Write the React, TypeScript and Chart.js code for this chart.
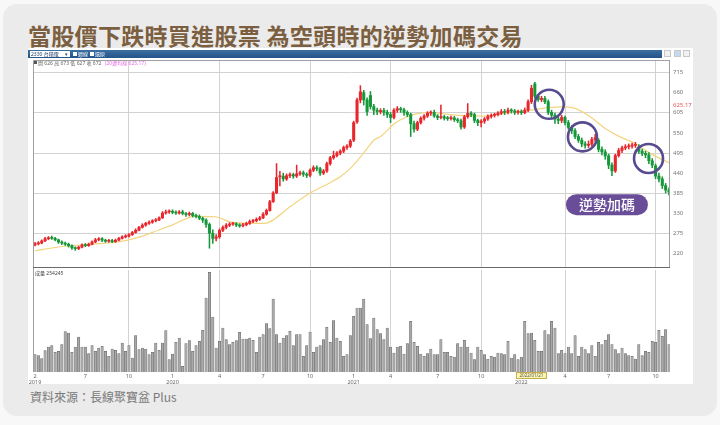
import { useEffect, useRef } from "react";
import { Chart, registerables } from "chart.js";

Chart.register(...registerables);

// weekly candles, Mar 2019 .. Oct 2022 (index = week)
const weekOpen = [
  244, 247, 249, 255, 261, 264, 262, 258, 252, 249,
  246, 242, 236, 234, 238, 244, 242, 246, 252, 258,
  261, 257, 254, 256, 253, 257, 262, 266, 268, 272,
  278, 284, 292, 298, 303, 306, 310, 312, 318, 331,
  334, 336, 333, 331, 334, 330, 327, 330, 324, 322,
  317, 312, 300, 276, 262, 266, 284, 292, 298, 301,
  302, 298, 296, 299, 303, 308, 310, 314, 318, 328,
  338, 362, 386, 430, 432, 424, 433, 436, 432, 438,
  441, 437, 434, 448, 455, 452, 440, 446, 466, 482,
  488, 495, 500, 510, 514, 530, 580, 640, 660, 640,
  652, 622, 612, 608, 611, 606, 600, 592, 612, 616,
  613, 606, 600, 575, 560, 578, 590, 596, 604, 606,
  596, 592, 594, 591, 589, 591, 586, 583, 566, 594,
  603, 600, 584, 578, 582, 588, 595, 598, 600, 604,
  608, 606, 612, 610, 606, 608, 605, 612, 635, 684,
  650, 641, 644, 635, 606, 598, 588, 584, 592, 578,
  565, 556, 540, 530, 520, 516, 519, 532, 530, 505,
  498, 487, 462, 446, 488, 502, 509, 512, 514, 516,
  512, 500, 494, 490, 474, 460, 432, 424, 406, 394
];
const weekHigh = [
  251, 253, 258, 265, 267, 268, 265, 260, 255, 252,
  249, 244, 239, 241, 247, 248, 249, 255, 262, 264,
  264, 260, 259, 259, 260, 265, 269, 272, 275, 281,
  288, 295, 302, 306, 310, 313, 316, 321, 335, 339,
  340, 340, 337, 338, 339, 333, 334, 333, 328, 326,
  320, 315, 304, 285, 272, 288, 296, 302, 305, 306,
  305, 302, 303, 306, 312, 314, 318, 322, 332, 342,
  366, 390, 466, 445, 440, 438, 441, 440, 462, 446,
  446, 441, 452, 460, 460, 456, 450, 470, 486, 500,
  499, 504, 514, 518, 532, 582, 645, 679, 666, 646,
  663, 628, 618, 616, 617, 612, 606, 616, 622, 620,
  618, 610, 604, 582, 582, 594, 600, 608, 610, 612,
  600, 626, 598, 595, 596, 595, 590, 588, 598, 630,
  608, 604, 588, 586, 592, 599, 602, 604, 608, 614,
  614, 618, 616, 614, 612, 613, 618, 640, 680, 688,
  655, 650, 650, 640, 612, 604, 594, 598, 596, 584,
  570, 562, 546, 536, 526, 528, 538, 546, 534, 512,
  504, 492, 468, 492, 508, 514, 518, 520, 522, 524,
  518, 506, 500, 496, 480, 465, 440, 430, 412, 400
];
const weekLow = [
  241, 244, 247, 253, 258, 259, 255, 248, 245, 243,
  238, 232, 229, 231, 236, 239, 240, 244, 250, 255,
  253, 251, 251, 250, 251, 255, 260, 263, 265, 270,
  276, 282, 290, 295, 300, 303, 307, 310, 316, 328,
  330, 329, 327, 328, 326, 322, 323, 320, 318, 313,
  305, 292, 235, 248, 255, 262, 280, 288, 294, 297,
  294, 292, 293, 296, 300, 305, 307, 311, 316, 325,
  336, 360, 384, 405, 418, 420, 428, 426, 428, 434,
  431, 428, 430, 444, 446, 434, 436, 442, 462, 478,
  484, 490, 496, 505, 510, 526, 576, 632, 626, 598,
  615, 600, 600, 602, 598, 592, 578, 588, 606, 606,
  598, 594, 540, 552, 556, 574, 585, 592, 598, 592,
  586, 588, 585, 584, 585, 581, 578, 560, 562, 590,
  594, 578, 570, 566, 576, 584, 590, 593, 596, 600,
  600, 602, 604, 600, 601, 600, 602, 608, 630, 645,
  636, 635, 630, 600, 590, 576, 575, 578, 572, 560,
  548, 534, 524, 512, 508, 510, 514, 526, 498, 490,
  478, 452, 433, 442, 484, 496, 504, 506, 508, 510,
  494, 488, 482, 466, 455, 425, 416, 398, 386, 380
];
const weekClose = [
  247, 249, 255, 261, 263, 262, 258, 252, 249, 246,
  242, 236, 234, 238, 244, 242, 246, 252, 258, 261,
  257, 254, 256, 253, 257, 262, 266, 268, 272, 278,
  284, 292, 298, 303, 306, 310, 312, 318, 331, 334,
  336, 333, 331, 334, 330, 327, 330, 324, 322, 317,
  312, 300, 276, 262, 266, 284, 292, 298, 301, 302,
  298, 296, 299, 303, 308, 310, 314, 318, 328, 338,
  362, 386, 428, 432, 424, 433, 436, 432, 438, 441,
  437, 434, 448, 455, 452, 440, 446, 466, 482, 488,
  495, 500, 510, 514, 528, 578, 640, 662, 640, 608,
  622, 612, 608, 611, 606, 600, 592, 612, 616, 613,
  606, 600, 575, 560, 578, 590, 596, 604, 606, 596,
  592, 594, 590, 589, 591, 586, 583, 566, 594, 603,
  600, 584, 578, 582, 588, 595, 598, 600, 604, 608,
  606, 612, 610, 606, 608, 605, 612, 635, 672, 650,
  641, 644, 635, 606, 598, 588, 584, 592, 578, 565,
  556, 540, 530, 520, 516, 519, 532, 537, 505, 498,
  487, 462, 446, 488, 502, 509, 512, 514, 516, 518,
  500, 494, 490, 474, 462, 432, 424, 406, 394, 388
];
const weekVolume = [
  52, 49, 40, 64, 75, 79, 59, 62, 82, 121,
  117, 59, 75, 105, 75, 75, 55, 79, 62, 72,
  77, 62, 47, 69, 65, 55, 87, 62, 79, 42,
  109, 67, 72, 69, 52, 59, 87, 65, 87, 124,
  37, 54, 89, 102, 17, 85, 94, 62, 79, 92,
  125, 222, 299, 165, 72, 92, 132, 97, 82, 89,
  94, 119, 99, 99, 102, 95, 59, 105, 112, 145,
  130, 219, 112, 87, 102, 109, 122, 79, 112, 112,
  47, 79, 120, 59, 75, 79, 97, 134, 89, 154,
  102, 92, 47, 52, 109, 167, 192, 192, 219, 142,
  100, 162, 127, 115, 97, 132, 75, 57, 75, 77,
  54, 85, 152, 89, 77, 54, 47, 55, 69, 52,
  52, 97, 59, 59, 47, 45, 85, 75, 95, 75,
  57, 37, 75, 65, 52, 39, 47, 45, 57, 55,
  52, 92, 42, 52, 37, 45, 152, 115, 117, 95,
  62, 62, 124, 112, 152, 132, 55, 65, 55, 75,
  55, 109, 47, 75, 67, 55, 79, 47, 89, 82,
  95, 112, 82, 67, 55, 72, 55, 49, 47, 39,
  82, 49, 62, 59, 92, 89, 125, 107, 127, 82
];

// moving average line, read at sample weeks
const maWeeks = [
  0, 7.5, 17, 24.7, 31.3, 36.7, 40.8, 47.7, 53.7, 58.1, 64.1, 68.6, 71.6, 76, 82, 86.5, 91, 94,
  98.4, 101, 103, 107.3, 110.3, 113.3, 117.8, 126, 134, 140, 147.6, 156.5, 161, 165.5, 170,
  174.4, 178.9, 183.4, 189.3
];
const maValues = [
  228, 239, 246, 252, 266, 284, 298, 322, 321, 307, 303, 303, 316, 348, 386, 407, 430, 453,
  500, 530, 540, 576, 592, 601, 605, 598, 596, 604, 612, 621, 617, 594, 562,
  539, 521, 494, 467
];

const priceTicks = [715, 660, 605, 550, 495, 440, 385, 330, 275, 220];
const monthTickWeeks = [0, 15, 28, 41, 55, 68, 82, 95, 106, 120, 133, 145, 158, 171, 185];
const monthTickLabels = ["2", "7", "10", "1", "4", "7", "10", "1", "4", "7", "10", "1", "4", "7", "10"];
const yearTickLabels = ["2019", "", "", "2020", "", "", "", "2021", "", "", "", "2022", "", "", ""];
const gridMonths = ["4", "10"];

const markerPrice = 625.17;
const hoverWeek = 148;
const hoverLabel = "2022/01/21";
const circleWeeks = [153.3, 163.2, 182.9];
const circlePrices = [628, 539, 480];
const calloutWeek = 170.5;
const calloutPrice = 354;
const calloutText = "逆勢加碼";

const X_MIN = -0.6;
const X_MAX = 189.3;
const UP = "#e8262c";
const DOWN = "#16983a";
const GRID = "#d2d2d2";
const SANS = "'Noto Sans', 'Noto Sans CJK TC', sans-serif";
const CJK = "'Noto Sans CJK TC', 'Noto Sans', sans-serif";

Chart.defaults.font.family = SANS;

const weeks = weekClose.map((_, i) => i);
const candleColors = weekClose.map((c, i) => (c >= weekOpen[i] ? UP : DOWN));

function gridColor(ctx: any) {
  return gridMonths.includes(monthTickLabels[ctx.index]) ? GRID : "rgba(0,0,0,0)";
}

function setMonthTicks(scale: any) {
  scale.ticks = monthTickWeeks.map((value) => ({ value }));
}

function dropPadding(scale: any) {
  scale.paddingTop = 0;
  scale.paddingBottom = 0;
  scale.paddingLeft = 0;
  scale.paddingRight = 0;
}

const priceOverlay = {
  id: "priceOverlay",
  afterDatasetsDraw(chart: any) {
    const { ctx, chartArea, scales } = chart;
    const { left, top, right, bottom } = chartArea;
    ctx.save();
    ctx.lineWidth = 1;
    ctx.strokeStyle = "#a0a0a0";
    ctx.strokeRect(left + 0.5, top + 0.5, right - left - 1, bottom - top - 1);
    ctx.strokeStyle = "#6a6a6a";
    ctx.beginPath();
    ctx.moveTo(left, bottom - 0.5);
    ctx.lineTo(right, bottom - 0.5);
    ctx.stroke();

    ctx.strokeStyle = "#594b8f";
    ctx.lineWidth = 2.6;
    circleWeeks.forEach((w, i) => {
      ctx.beginPath();
      ctx.arc(scales.x.getPixelForValue(w), scales.y.getPixelForValue(circlePrices[i]), 14.5, 0, Math.PI * 2);
      ctx.stroke();
    });

    const cx = scales.x.getPixelForValue(calloutWeek);
    const cy = scales.y.getPixelForValue(calloutPrice);
    ctx.fillStyle = "#6a4d98";
    ctx.beginPath();
    ctx.roundRect(cx - 41, cy - 10.5, 82, 21, 10.5);
    ctx.fill();
    ctx.fillStyle = "#ffffff";
    ctx.font = `500 14px ${CJK}`;
    ctx.textAlign = "center";
    ctx.textBaseline = "middle";
    ctx.fillText(calloutText, cx, cy + 0.5);

    ctx.fillStyle = "#e05858";
    ctx.font = `6px ${SANS}`;
    ctx.textAlign = "left";
    ctx.fillText(markerPrice.toFixed(2), right + 3, scales.y.getPixelForValue(markerPrice));
    ctx.restore();
  }
};

const volumeOverlay = {
  id: "volumeOverlay",
  afterDraw(chart: any) {
    const { ctx, chartArea, scales } = chart;
    ctx.save();
    ctx.strokeStyle = "#a0a0a0";
    ctx.lineWidth = 1;
    ctx.beginPath();
    ctx.moveTo(chartArea.left + 0.5, chartArea.top - 2);
    ctx.lineTo(chartArea.left + 0.5, chartArea.bottom);
    ctx.stroke();

    const hx = scales.x.getPixelForValue(hoverWeek);
    const hy = chartArea.bottom + 0.5;
    ctx.fillStyle = "#fbf6b4";
    ctx.strokeStyle = "#c6ad48";
    ctx.fillRect(hx - 15, hy, 30, 6);
    ctx.strokeRect(hx - 15, hy, 30, 6);
    ctx.fillStyle = "#555";
    ctx.font = `4.5px ${SANS}`;
    ctx.textAlign = "center";
    ctx.textBaseline = "middle";
    ctx.fillText(hoverLabel, hx, hy + 3);
    ctx.restore();
  }
};

function PriceChart() {
  const canvasRef = useRef<HTMLCanvasElement | null>(null);

  useEffect(() => {
    if (!canvasRef.current) {
      return undefined;
    }

    const chart = new Chart(canvasRef.current, {
      type: "bar",
      data: {
        datasets: [
          {
            type: "bar",
            data: weeks.map((i) => ({ x: i, y: [weekOpen[i], weekClose[i]] })),
            backgroundColor: candleColors,
            barThickness: 2.4,
            minBarLength: 1,
            grouped: false,
            order: 1
          },
          {
            type: "bar",
            data: weeks.map((i) => ({ x: i, y: [weekLow[i], weekHigh[i]] })),
            backgroundColor: candleColors,
            barThickness: 0.9,
            grouped: false,
            order: 2
          },
          {
            type: "line",
            data: maWeeks.map((w, i) => ({ x: w, y: maValues[i] })),
            borderColor: "#f3d47f",
            borderWidth: 1.2,
            pointRadius: 0,
            cubicInterpolationMode: "monotone",
            order: 3
          }
        ]
      } as any,
      options: {
        animation: false,
        responsive: true,
        maintainAspectRatio: false,
        events: [],
        layout: { padding: { left: 5, right: 0, top: 0, bottom: 0 } },
        plugins: { legend: { display: false }, tooltip: { enabled: false } },
        scales: {
          x: {
            type: "linear",
            min: X_MIN,
            max: X_MAX,
            offset: false,
            afterBuildTicks: setMonthTicks,
            afterFit: (scale: any) => {
              scale.height = 0;
              dropPadding(scale);
            },
            ticks: { display: false, autoSkip: false },
            grid: { color: gridColor, drawTicks: false, offset: false },
            border: { display: false }
          },
          y: {
            position: "right",
            min: 181,
            max: 749,
            afterBuildTicks: (scale: any) => {
              scale.ticks = priceTicks.map((value) => ({ value }));
            },
            afterFit: (scale: any) => {
              scale.width = 23;
              dropPadding(scale);
            },
            ticks: { color: "#777", font: { size: 6 }, padding: 3, autoSkip: false },
            grid: {
              color: (ctx: any) => ((715 - ctx.tick.value) % 110 === 0 ? GRID : "rgba(0,0,0,0)"),
              drawTicks: false
            },
            border: { display: false }
          }
        }
      } as any,
      plugins: [priceOverlay]
    });

    return () => chart.destroy();
  }, []);

  return (
    <div style={{ position: "absolute", left: 28, top: 60, width: 665, height: 208 }}>
      <canvas ref={canvasRef} />
    </div>
  );
}

function VolumeChart() {
  const canvasRef = useRef<HTMLCanvasElement | null>(null);

  useEffect(() => {
    if (!canvasRef.current) {
      return undefined;
    }

    const chart = new Chart(canvasRef.current, {
      type: "bar",
      data: {
        datasets: [
          {
            data: weeks.map((i) => ({ x: i, y: weekVolume[i] })),
            backgroundColor: "#a8a8a8",
            borderColor: "#626262",
            borderWidth: 0.5,
            barThickness: 2.4
          }
        ]
      } as any,
      options: {
        animation: false,
        responsive: true,
        maintainAspectRatio: false,
        events: [],
        layout: { padding: { left: 5, right: 23, top: 2, bottom: 0 } },
        plugins: { legend: { display: false }, tooltip: { enabled: false } },
        scales: {
          x: {
            type: "linear",
            min: X_MIN,
            max: X_MAX,
            offset: false,
            afterBuildTicks: setMonthTicks,
            afterFit: (scale: any) => {
              scale.height = 13;
              dropPadding(scale);
            },
            ticks: {
              autoSkip: false,
              maxRotation: 0,
              padding: 1,
              color: "#666",
              font: { size: 5.5 },
              callback: (_value: any, index: number) =>
                yearTickLabels[index] ? [monthTickLabels[index], yearTickLabels[index]] : monthTickLabels[index]
            },
            grid: { color: gridColor, drawTicks: false, offset: false },
            border: { display: false }
          },
          y: { display: false, min: 0, max: 306 }
        }
      } as any,
      plugins: [volumeOverlay]
    });

    return () => chart.destroy();
  }, []);

  return (
    <div style={{ position: "absolute", left: 28, top: 268, width: 665, height: 117 }}>
      <canvas ref={canvasRef} />
    </div>
  );
}

const tinyText = { position: "absolute" as const, fontSize: 5, lineHeight: "6px", whiteSpace: "nowrap" as const };

function Toolbar() {
  return (
    <>
      <div
        style={{
          position: "absolute",
          left: 28,
          top: 50,
          width: 634,
          height: 8,
          background: "linear-gradient(#3d6fa1, #24548a)"
        }}
      />
      <div
        style={{
          ...tinyText,
          left: 30,
          top: 51,
          width: 40,
          height: 6,
          background: "#fff",
          color: "#1d3f6e",
          paddingLeft: 1,
          boxSizing: "border-box"
        }}
      >
        2330 台積電 <span style={{ float: "right", paddingRight: 2 }}>▾</span>
      </div>
      <div style={{ position: "absolute", left: 73, top: 52, width: 4, height: 4, background: "#fff" }} />
      <div style={{ ...tinyText, left: 78, top: 51, color: "#fff" }}>週線</div>
      <div style={{ position: "absolute", left: 90, top: 52, width: 4, height: 4, background: "#fff" }} />
      <div style={{ ...tinyText, left: 95, top: 51, color: "#fff" }}>還原</div>
      {["#f1f1f1", "#c4d9f0", "#f1f1f1"].map((bg, i) => (
        <div
          key={i}
          style={{
            position: "absolute",
            left: 664 + i * 9.5,
            top: 50,
            width: 7,
            height: 7,
            background: bg,
            border: "1px solid #c8c8c8",
            boxSizing: "border-box"
          }}
        />
      ))}
      <div style={{ position: "absolute", left: 34, top: 61, width: 3, height: 3, background: "#555" }} />
      <div style={{ ...tinyText, left: 38, top: 60, color: "#666" }}>開 626 高 673 低 627 收 672</div>
      <div style={{ ...tinyText, left: 105, top: 60, color: "#e46ae4" }}>(20週均線 625.17)</div>
      <div style={{ ...tinyText, left: 35, top: 270, color: "#444" }}>成量 254245</div>
    </>
  );
}

export default function App() {
  return (
    <div
      style={{
        position: "fixed",
        left: 0,
        top: 0,
        width: 720,
        height: 425,
        overflow: "hidden",
        background: "#f8f8f8",
        fontFamily: SANS
      }}
    >
      <div
        style={{ position: "absolute", left: 3, top: 4, width: 714, height: 412, borderRadius: 14, background: "#ebebeb" }}
      />
      <div
        style={{
          position: "absolute",
          left: 28,
          top: 20,
          fontSize: 23,
          lineHeight: "30px",
          fontWeight: 700,
          letterSpacing: 0.3,
          color: "#7b5f40",
          whiteSpace: "nowrap",
          fontFamily: CJK
        }}
      >
        當股價下跌時買進股票 為空頭時的逆勢加碼交易
      </div>
      <div style={{ position: "absolute", left: 28, top: 48, width: 665, height: 336, background: "#fff" }} />
      <PriceChart />
      <VolumeChart />
      <Toolbar />
      <div
        style={{
          position: "absolute",
          left: 30,
          top: 389,
          fontSize: 12,
          lineHeight: "16px",
          color: "#7a7a7a",
          whiteSpace: "nowrap",
          fontFamily: CJK
        }}
      >
        資料來源：長線聚寶盆 Plus
      </div>
    </div>
  );
}
